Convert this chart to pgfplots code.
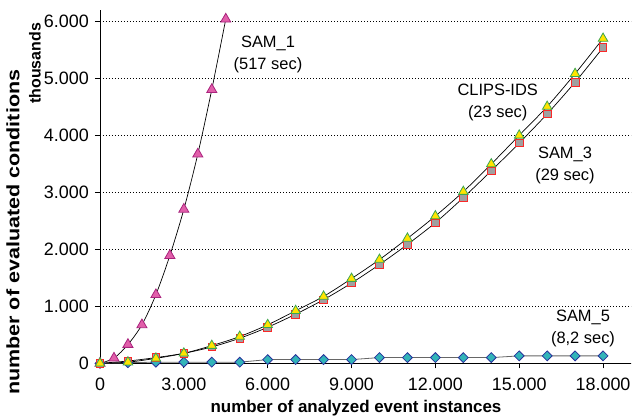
\documentclass[border=0pt]{standalone}
\usepackage{fontspec}
\setmainfont{Liberation Sans}
\newfontfamily\ylabfont[FakeStretch=1.2]{Liberation Sans}
\usepackage{pgfplots}
\pgfplotsset{compat=1.18}
\usetikzlibrary{calc}

\definecolor{sampink}{RGB}{225,95,170}
\definecolor{sampinkedge}{RGB}{170,35,125}
\definecolor{clipsyellow}{RGB}{255,228,0}
\definecolor{clipsgreen}{RGB}{60,165,80}
\definecolor{sq3grey}{RGB}{160,160,160}
\definecolor{sq3red}{RGB}{250,40,40}
\definecolor{s5teal}{RGB}{50,180,185}
\definecolor{s5navy}{RGB}{40,50,155}

\begin{document}
\begin{tikzpicture}
\begin{axis}[
    scale only axis,
    width=531bp, height=353bp,
    xmin=0, xmax=19000,
    ymin=0, ymax=6190,
    axis x line*=bottom,
    axis y line*=left,
    axis line style={black, line width=0.9bp},
    xtick={0,3000,...,18000},
    ytick={0,1000,...,6000},
    scaled ticks=false,
    tick align=outside,
    major tick length=5bp,
    tick style={black, line width=0.8bp},
    ymajorgrids,
    grid style={black, line width=0.7bp, dash pattern=on 1bp off 2bp},
    /pgf/number format/.cd, 1000 sep={.}, assume math mode=true,
    /pgfplots/.cd,
    ticklabel style={font=\fontsize{18}{21}\selectfont},
    yticklabel style={inner sep=0pt, xshift=-6bp},
    xticklabel style={inner sep=0pt, yshift=-9bp},
    clip=false,
]
    % SAM_5
    \addplot[color=black!60, line width=0.8bp, mark=square*, mark size=3.5bp,
        mark options={rotate=45, fill=s5teal, draw=s5navy, line width=0.8bp}] coordinates {
        (0,0) (1000,10) (2000,20) (3000,20) (4000,20) (5000,20) (6000,65)
        (7000,65) (8000,65) (9000,65) (10000,100) (11000,100) (12000,100)
        (13000,100) (14000,100) (15000,130) (16000,130) (17000,130) (18000,130)
    };
    % SAM_1
    \addplot[color=black, line width=0.7bp, smooth, mark=triangle*, mark size=5.8bp,
        mark options={fill=sampink, draw=sampinkedge, line width=0.8bp}] coordinates {
        (0,0) (500,90) (1000,330) (1500,675) (2000,1203) (2500,1890)
        (3000,2700) (3500,3669) (4000,4800) (4500,6035)
    };
    % SAM_3
    \addplot[color=black, line width=0.7bp, smooth, mark=square*, mark size=3.8bp,
        mark options={fill=sq3grey, draw=sq3red, line width=0.8bp}] coordinates {
        (0,0) (1000,40) (2000,100) (3000,175) (4000,287) (5000,439) (6000,632)
        (7000,861) (8000,1115) (9000,1407) (10000,1732) (11000,2084) (12000,2465)
        (13000,2905) (14000,3375) (15000,3863) (16000,4373) (17000,4930) (18000,5536)
    };
    % CLIPS-IDS
    \addplot[color=black, line width=0.7bp, smooth, mark=triangle*, mark size=5.5bp,
        mark options={fill=clipsyellow, draw=clipsgreen, line width=0.8bp}] coordinates {
        (0,0) (1000,20) (2000,87) (3000,175) (4000,310) (5000,469) (6000,675)
        (7000,921) (8000,1173) (9000,1485) (10000,1819) (11000,2190) (12000,2582)
        (13000,3010) (14000,3493) (15000,3997) (16000,4502) (17000,5078) (18000,5695)
    };
    \coordinate (O) at (rel axis cs:0,0);
\end{axis}
\begin{scope}[every node/.style={font=\fontsize{16.5}{22}\selectfont, align=center, inner sep=0pt}]
    \node at ($(O)+(168bp,309bp)$) {SAM\_1\\(517 sec)};
    \node at ($(O)+(397.7bp,261bp)$) {CLIPS-IDS\\(23 sec)};
    \node at ($(O)+(465bp,198bp)$) {SAM\_3\\(29 sec)};
    \node at ($(O)+(483bp,35bp)$) {SAM\_5\\(8,2 sec)};
\end{scope}
\node[font=\fontsize{17}{20}\selectfont\bfseries, anchor=base, inner sep=0pt]
    at ($(O)+(256bp,-49bp)$) {number of analyzed event instances};
\node[font=\ylabfont\fontsize{18}{20}\selectfont\bfseries, rotate=90, inner sep=0pt]
    at ($(O)+(-87bp,131bp)$) {number of evaluated conditions};
\node[font=\fontsize{16}{18}\selectfont\bfseries, rotate=90, inner sep=0pt]
    at ($(O)+(-65bp,300bp)$) {thousands};
\pgfresetboundingbox
\path ($(O)+(-100bp,-53.7bp)$) rectangle ($(O)+(532bp,363.3bp)$);
\end{tikzpicture}
\end{document}
